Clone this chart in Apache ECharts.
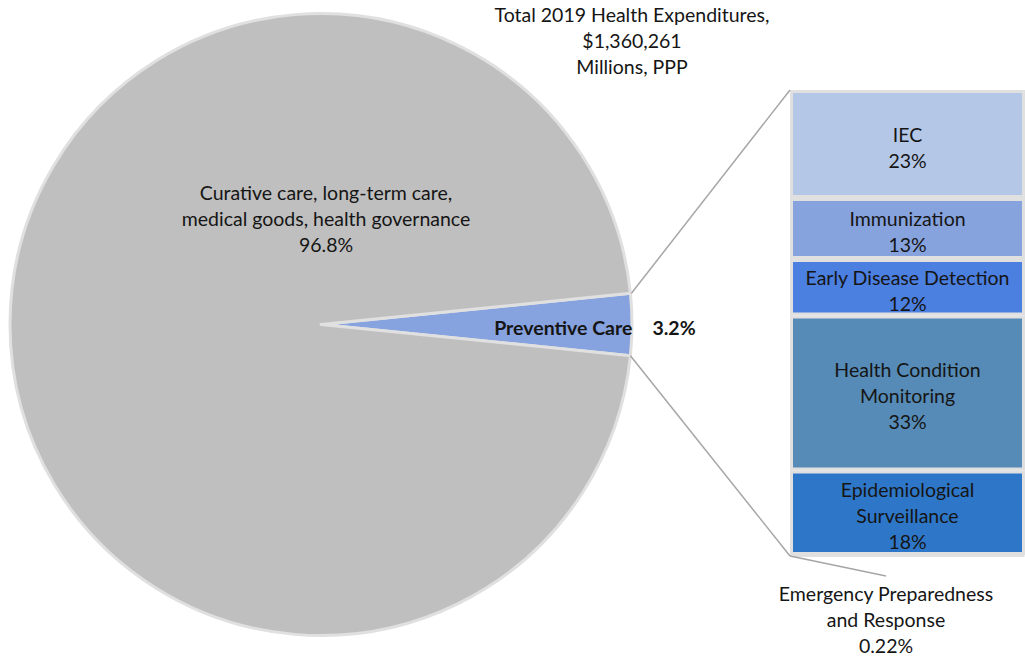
<!DOCTYPE html>
<html>
<head>
<meta charset="utf-8">
<script src="https://cdn.jsdelivr.net/npm/echarts@6/dist/echarts.min.js"></script>
<style>
  html, body { margin: 0; padding: 0; background: #fff; }
  #chart { width: 1025px; height: 656px; }
</style>
</head>
<body>
<div id="chart"></div>
<script>
// Main pie: share of total 2019 health expenditures (%)
const pieNames = ['Preventive Care', 'Curative care, long-term care,\nmedical goods, health governance'];
const pieValues = [3.2, 96.8];
const pieColors = ['#87a3df', '#bfbfbf'];

// Breakdown of preventive care (% of preventive spending), top to bottom
const barNames = [
  'IEC',
  'Immunization',
  'Early Disease Detection',
  'Health Condition\nMonitoring',
  'Epidemiological\nSurveillance',
  'Emergency Preparedness\nand Response'
];
const barValues = [23, 13, 12, 33, 18, 0.22];
const barColors = ['#b4c7e7', '#87a3de', '#4b7fe0', '#558bb6', '#2e77c8', '#2a5ea8'];

const titleLines = ['Total 2019 Health Expenditures,', '$1,360,261', 'Millions, PPP'];

const FONT = 'Lato, "Open Sans", sans-serif';
const FS = 19.5;
const LH = 26;
const TXT = '#151515';
const LINE = '#a6a6a6';
const EDGE = '#e0e0e0';

// Layout
const PIE_CX = 321, PIE_CY = 324.5, PIE_R = 311;
const BAR_LEFT = 790, BAR_TOP = 90, BAR_H = 466, BAR_W = 237;

const pieTotal = pieValues.reduce((a, b) => a + b, 0);
const barTotal = barValues.reduce((a, b) => a + b, 0);
// Centre the preventive slice on the 3 o'clock direction
const halfAngle = pieValues[0] / pieTotal * 360 / 2;

const chart = echarts.init(document.getElementById('chart'), null, { renderer: 'svg' });

const barSeries = barValues.map((v, i) => ({
  type: 'bar',
  name: barNames[i],
  stack: 'prev',
  barWidth: '100%',
  data: [v],
  silent: true,
  itemStyle: { color: barColors[i], borderColor: EDGE, borderWidth: 3 },
  label: {
    show: i < barValues.length - 1,
    position: 'inside',
    offset: [0, 3],
    formatter: () => barNames[i] + '\n' + v + '%',
    color: TXT,
    fontFamily: FONT,
    fontSize: FS,
    lineHeight: LH,
    align: 'center'
  }
}));

chart.setOption({
  animation: false,
  grid: { left: BAR_LEFT, top: BAR_TOP, width: BAR_W, height: BAR_H, containLabel: false },
  xAxis: { type: 'category', data: ['Preventive Care'], show: false, boundaryGap: true },
  yAxis: { type: 'value', min: 0, max: barTotal, inverse: true, show: false },
  series: [
    {
      type: 'pie',
      center: [PIE_CX, PIE_CY],
      radius: PIE_R,
      startAngle: halfAngle,
      clockwise: true,
      silent: true,
      label: { show: false },
      labelLine: { show: false },
      itemStyle: { borderColor: EDGE, borderWidth: 3 },
      data: pieValues.map((v, i) => ({ name: pieNames[i], value: v, itemStyle: { color: pieColors[i] } }))
    }
  ].concat(barSeries)
});

// Connector lines and free-standing labels, derived from the pie and bar geometry
const a = halfAngle * Math.PI / 180;
const edgeX = PIE_CX + PIE_R * Math.cos(a);
const edgeTopY = PIE_CY - PIE_R * Math.sin(a);
const edgeBotY = PIE_CY + PIE_R * Math.sin(a);
const barTopY = chart.convertToPixel({ yAxisIndex: 0 }, 0);
const barBotY = chart.convertToPixel({ yAxisIndex: 0 }, barTotal);

const lastIdx = barValues.length - 1;
const eprX = BAR_LEFT + 96;

function text(str, x, y, opts) {
  return {
    type: 'text',
    silent: true,
    z: 100,
    style: Object.assign({
      text: str, x: x, y: y,
      fill: TXT,
      fontFamily: FONT,
      fontSize: FS,
      lineHeight: LH,
      align: 'center',
      verticalAlign: 'middle'
    }, opts || {})
  };
}

function line(x1, y1, x2, y2) {
  return { type: 'line', silent: true, z: 100, shape: { x1: x1, y1: y1, x2: x2, y2: y2 }, style: { stroke: LINE, lineWidth: 1.5 } };
}

chart.setOption({
  graphic: [
    line(edgeX + 1, edgeTopY, BAR_LEFT, barTopY),
    line(edgeX, edgeBotY, BAR_LEFT, barBotY),
    line(BAR_LEFT, barBotY, eprX, barBotY + 20),
    text(titleLines.join('\n'), 632, 40),
    text(pieNames[1] + '\n' + pieValues[1] + '%', PIE_CX + 5, PIE_CY - 106),
    text(pieNames[0], edgeX + 2, PIE_CY + 3, { align: 'right', fontWeight: 'bold' }),
    text(pieValues[0] + '%', edgeX + 22, PIE_CY + 3, { align: 'left', fontWeight: 'bold' }),
    text(barNames[lastIdx] + '\n' + barValues[lastIdx] + '%', eprX, barBotY + 63)
  ]
});
</script>
</body>
</html>
